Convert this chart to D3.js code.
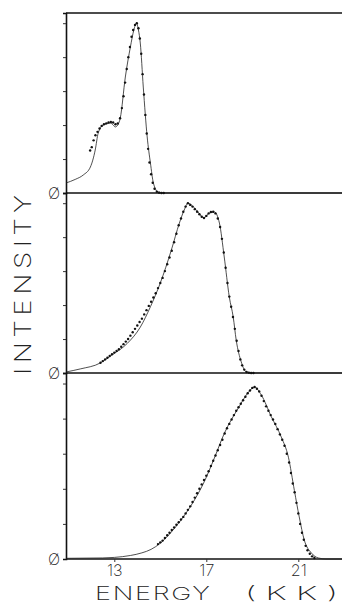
<!DOCTYPE html>
<html>
<head>
<meta charset="utf-8">
<script src="https://cdn.jsdelivr.net/npm/d3@7"></script>
<style>
  body { margin: 0; background: #fff; }
  svg { display: block; }
  .plotter { font-family: Inter, Roboto, Lato, sans-serif; font-weight: 200; fill: #222; }
</style>
</head>
<body>
<div id="vis"></div>
<script>
// fitted curves (solid line), [energy kK, intensity]
const fit1 = [[10.9,0.059],[11.3,0.08],[11.65,0.106],[11.96,0.153],[12.17,0.253],[12.3,0.353],[12.52,0.40],[12.83,0.412],[12.95,0.40],[13.04,0.389],[13.15,0.40],[13.26,0.442],[13.48,0.683],[13.7,0.86],[13.85,0.96],[13.96,1.0],[14.05,0.96],[14.13,0.883],[14.26,0.624],[14.43,0.33],[14.57,0.177],[14.7,0.059],[14.9,0.006],[15.2,0],[22.9,0]]
const fit2 = [[10.9,0.006],[11.52,0.024],[12.39,0.059],[12.83,0.1],[13.57,0.175],[14.13,0.27],[14.57,0.39],[15.0,0.53],[15.48,0.724],[15.83,0.883],[16.04,0.96],[16.2,1.0],[16.57,0.96],[16.9,0.913],[17.13,0.942],[17.35,0.948],[17.57,0.883],[17.78,0.683],[18.0,0.448],[18.17,0.33],[18.3,0.194],[18.52,0.065],[18.74,0.006],[19.0,0],[22.9,0]]
const fit3 = [[10.9,0.004],[12.5,0.006],[13.0,0.009],[13.7,0.02],[14.2,0.035],[14.6,0.055],[15.0,0.09],[15.4,0.142],[15.9,0.222],[16.3,0.297],[16.91,0.44],[17.35,0.575],[17.78,0.715],[18.39,0.86],[18.83,0.95],[19.09,0.98],[19.39,0.935],[19.83,0.81],[20.26,0.695],[20.57,0.58],[20.83,0.39],[21.04,0.24],[21.26,0.108],[21.57,0.034],[21.87,0.006],[22.2,0],[22.9,0]]

// measured points (dots)
const obs1 = [[11.95,0.25],[12.02,0.27],[12.1,0.31],[12.18,0.34],[12.27,0.36],[12.36,0.38],[12.45,0.395],[12.55,0.405],[12.65,0.41],[12.75,0.415],[12.85,0.418],[12.95,0.415],[13.05,0.405],[13.15,0.41],[13.25,0.44],[13.33,0.5],[13.4,0.57],[13.47,0.65],[13.54,0.73],[13.61,0.8],[13.68,0.86],[13.75,0.92],[13.82,0.96],[13.9,0.99],[13.98,1.0],[14.05,0.97],[14.11,0.91],[14.17,0.82],[14.23,0.7],[14.29,0.58],[14.35,0.46],[14.41,0.35],[14.47,0.26],[14.53,0.18],[14.6,0.11],[14.67,0.06],[14.75,0.025],[14.85,0.008],[14.95,0.002],[15.05,0],[15.15,0]]
const obs2 = [[12.4,0.06],[12.5,0.07],[12.6,0.08],[12.7,0.09],[12.8,0.1],[12.9,0.11],[13.0,0.12],[13.1,0.13],[13.2,0.14],[13.3,0.155],[13.4,0.17],[13.5,0.185],[13.6,0.2],[13.7,0.22],[13.8,0.24],[13.9,0.26],[14.0,0.28],[14.1,0.3],[14.2,0.32],[14.3,0.345],[14.4,0.37],[14.5,0.395],[14.6,0.42],[14.7,0.445],[14.8,0.47],[14.9,0.5],[15.0,0.53],[15.1,0.56],[15.2,0.6],[15.3,0.64],[15.4,0.68],[15.5,0.72],[15.6,0.77],[15.7,0.82],[15.8,0.87],[15.9,0.91],[16.0,0.95],[16.1,0.98],[16.2,1.0],[16.3,0.99],[16.4,0.98],[16.5,0.965],[16.6,0.95],[16.7,0.935],[16.8,0.92],[16.9,0.913],[17.0,0.925],[17.1,0.94],[17.2,0.948],[17.3,0.95],[17.4,0.94],[17.5,0.91],[17.6,0.86],[17.68,0.79],[17.76,0.71],[17.84,0.62],[17.92,0.53],[18.0,0.45],[18.08,0.39],[18.16,0.33],[18.24,0.26],[18.32,0.19],[18.4,0.13],[18.48,0.08],[18.56,0.045],[18.65,0.02],[18.75,0.006],[18.85,0.002],[18.95,0],[19.05,0]]
const obs3 = [[14.9,0.085],[15.0,0.095],[15.1,0.105],[15.2,0.12],[15.3,0.135],[15.4,0.15],[15.5,0.165],[15.6,0.18],[15.7,0.195],[15.8,0.21],[15.9,0.225],[16.0,0.24],[16.1,0.26],[16.2,0.28],[16.3,0.3],[16.4,0.325],[16.5,0.35],[16.6,0.375],[16.7,0.4],[16.8,0.425],[16.9,0.45],[17.0,0.475],[17.1,0.5],[17.2,0.53],[17.3,0.56],[17.4,0.59],[17.5,0.62],[17.6,0.65],[17.7,0.68],[17.8,0.715],[17.9,0.745],[18.0,0.77],[18.1,0.795],[18.2,0.82],[18.3,0.845],[18.4,0.865],[18.5,0.885],[18.6,0.905],[18.7,0.925],[18.8,0.945],[18.9,0.96],[19.0,0.975],[19.1,0.98],[19.2,0.97],[19.3,0.955],[19.4,0.93],[19.5,0.9],[19.6,0.87],[19.7,0.845],[19.8,0.82],[19.9,0.795],[20.0,0.77],[20.1,0.74],[20.2,0.71],[20.3,0.68],[20.4,0.645],[20.5,0.6],[20.6,0.55],[20.68,0.49],[20.76,0.43],[20.84,0.38],[20.92,0.32],[21.0,0.26],[21.08,0.2],[21.16,0.15],[21.24,0.11],[21.32,0.075],[21.4,0.05],[21.5,0.03],[21.6,0.015],[21.7,0.006]]

const energyTicks = [13, 17, 21]
const intensityTicks = [0.2, 0.4, 0.6, 0.8, 1.0]
const zeroLabel = "\u00D8"

const panels = [
  {fit: fit1, obs: obs1, top: 13, bottom: 193},
  {fit: fit2, obs: obs2, top: 193, bottom: 373},
  {fit: fit3, obs: obs3, top: 373, bottom: 559}
]

const W = 342, H = 604
const left = 66

let svg = d3.select('#vis').append('svg')
  .attr('width', W)
  .attr('height', H)

const xScale = d3.scaleLinear([10.9, 22.9], [left, W])

// top frame line
svg.append('line')
  .attr('x1', left).attr('x2', W)
  .attr('y1', panels[0].top).attr('y2', panels[0].top)
  .attr('stroke', '#111').attr('stroke-width', 1.6)

panels.forEach((p, i) => {
  let yScale = d3.scaleLinear([0, 1.06], [p.bottom, p.top])
  let g = svg.append('g')

  // baseline
  g.append('line')
    .attr('x1', left).attr('x2', W)
    .attr('y1', yScale(0)).attr('y2', yScale(0))
    .attr('stroke', '#111').attr('stroke-width', 1.6)

  // left axis with small ticks
  g.append('g')
    .attr('transform', `translate(${left},0)`)
    .call(d3.axisLeft(yScale).tickValues(intensityTicks).tickSize(3).tickFormat(''))
    .call(a => a.select('.domain').attr('stroke', '#111').attr('stroke-width', 1.6))
    .call(a => a.selectAll('.tick line').attr('stroke', '#333').attr('stroke-width', 1))

  g.append('text')
    .attr('class', 'plotter')
    .attr('x', left - 12)
    .attr('y', yScale(0) + 6)
    .attr('text-anchor', 'middle')
    .attr('font-size', 16)
    .text(zeroLabel)

  let line = d3.line()
    .x(d => xScale(d[0]))
    .y(d => yScale(d[1]))
    .curve(d3.curveMonotoneX)

  g.append('path')
    .datum(p.fit)
    .attr('d', line)
    .attr('fill', 'none')
    .attr('stroke', '#222')
    .attr('stroke-width', 0.8)

  g.selectAll('circle')
    .data(p.obs).enter()
    .append('circle')
    .attr('cx', d => xScale(d[0]))
    .attr('cy', d => yScale(d[1]))
    .attr('r', 1.2)
    .attr('fill', '#111')

  if (i == panels.length - 1) {
    g.append('g')
      .attr('transform', `translate(0,${p.bottom})`)
      .call(d3.axisBottom(xScale).tickValues(energyTicks).tickSize(3).tickPadding(3))
      .call(a => a.select('.domain').remove())
      .call(a => a.selectAll('.tick line').attr('stroke', '#333'))
      .call(a => a.selectAll('.tick text')
        .attr('class', 'plotter')
        .attr('font-size', 16)
        .attr('fill', '#222'))
  }
})

// axis titles, stretched wide like plotter lettering
svg.append('text')
  .attr('class', 'plotter')
  .attr('transform', 'translate(95,600) scale(1.5,1)')
  .attr('font-size', 18)
  .attr('textLength', 115 / 1.5)
  .attr('lengthAdjust', 'spacing')
  .text('ENERGY')

svg.append('text')
  .attr('class', 'plotter')
  .attr('transform', 'translate(245,600) scale(1.9,1)')
  .attr('font-size', 18)
  .attr('textLength', 93 / 1.9)
  .attr('lengthAdjust', 'spacing')
  .text('(KK)')

svg.append('text')
  .attr('class', 'plotter')
  .attr('transform', 'translate(31,375) rotate(-90) scale(1.2,1)')
  .attr('font-size', 23)
  .attr('textLength', 180 / 1.2)
  .attr('lengthAdjust', 'spacing')
  .text('INTENSITY')
</script>
</body>
</html>
